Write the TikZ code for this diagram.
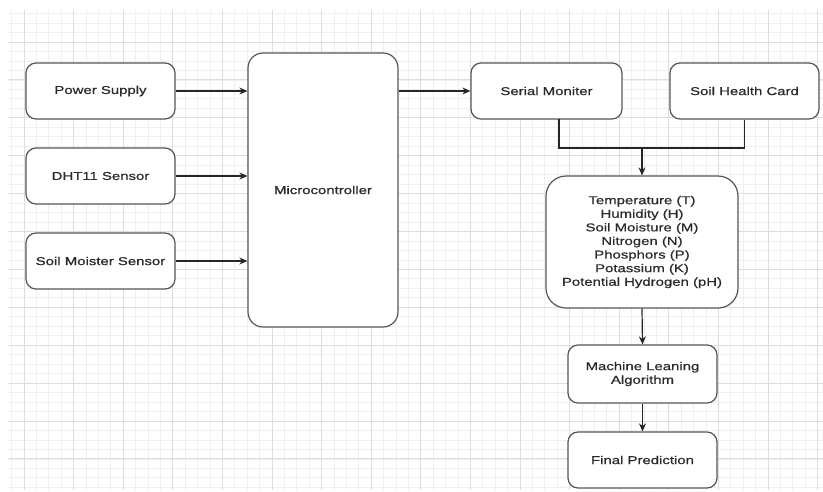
\documentclass[tikz,border=0pt]{standalone}
\usepackage{fontspec}
\setmainfont{Liberation Sans}[FakeStretch=1.31,FakeBold=0.6]
\usetikzlibrary{arrows.meta}
\definecolor{gridminor}{HTML}{EFEFEF}
\definecolor{gridmajor}{HTML}{DDDDDD}
\definecolor{boxline}{HTML}{555555}
\definecolor{txt}{HTML}{2A2A2A}
\tikzset{
  blk/.style={draw=boxline, line width=1.2pt, fill=white, rounded corners=10pt,
    inner sep=0pt, align=center, text=txt,
    font=\fontsize{11.4pt}{13.6pt}\selectfont},
  conn/.style={draw=black!85, line width=1.2pt},
  arr/.style={conn, -{Stealth[length=8pt,width=7pt]}},
}
\begin{document}
\begin{tikzpicture}[x=1pt,y=-1pt]
\useasboundingbox (0,0) rectangle (823,491);
\fill[white] (0,0) rectangle (823,491);
% grid
\foreach \i in {-1,...,64} \draw[gridminor, line width=0.8pt] ({24+12.4*\i},10) -- (24+12.4*\i,490);
\foreach \j in {-3,...,47} \draw[gridminor, line width=0.8pt] (8,{42+9.475*\j}) -- (823,42+9.475*\j);
\foreach \i in {0,...,16} \draw[gridmajor, line width=1pt] ({24+49.6*\i},10) -- (24+49.6*\i,490);
\foreach \j in {0,...,11} \draw[gridmajor, line width=1pt] (8,{42+37.9*\j}) -- (823,42+37.9*\j);
% nodes
\node[blk, minimum width=149pt, minimum height=56pt] (ps) at (100.5,91) {Power Supply};
\node[blk, minimum width=149pt, minimum height=56pt] (dht) at (100.5,176) {DHT11 Sensor};
\node[blk, minimum width=149pt, minimum height=56pt] (sms) at (100.5,261) {Soil Moister Sensor};
\node[blk, rounded corners=15pt, minimum width=150pt, minimum height=274pt] (mc) at (323,190) {Microcontroller};
\node[blk, minimum width=151pt, minimum height=56pt] (sm) at (546.5,91) {Serial Moniter};
\node[blk, minimum width=149pt, minimum height=56pt] (shc) at (744.5,91) {Soil Health Card};
\node[blk, rounded corners=20pt, minimum width=192pt, minimum height=132pt] (par) at (642,242) {Temperature (T)\\Humidity (H)\\Soil Moisture (M)\\Nitrogen (N)\\Phosphors (P)\\Potassium (K)\\Potential Hydrogen (pH)};
\node[blk, minimum width=149pt, minimum height=58pt] (ml) at (642.5,374) {Machine Leaning\\Algorithm};
\node[blk, minimum width=149pt, minimum height=56pt] (fp) at (642.5,460) {Final Prediction};
% connectors
\draw[arr] (ps.east) -- (ps.east -| mc.west);
\draw[arr] (dht.east) -- (dht.east -| mc.west);
\draw[arr] (sms.east) -- (sms.east -| mc.west);
\draw[arr] (sm.west -| mc.east) -- (sm.west);
\coordinate (smb) at (559,119);
\coordinate (jl) at (559,148);
\coordinate (jr) at (shc.south |- jl);
\coordinate (jm) at (par.north |- jl);
\draw[conn] (smb) -- (jl) -- (jr) -- (shc.south);
\draw[arr] (jm) -- (par.north);
\draw[arr] (par.south) -- (ml.north);
\draw[arr] (ml.south) -- (fp.north);
\end{tikzpicture}
\end{document}
